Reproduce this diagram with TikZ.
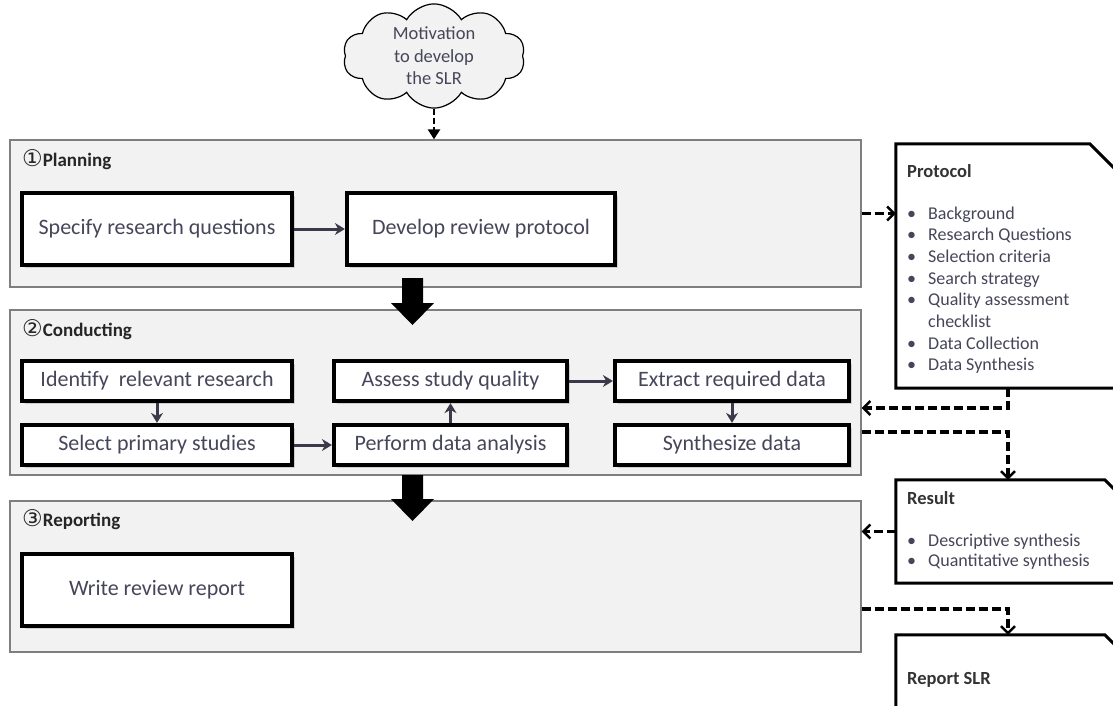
\documentclass[tikz,border=0pt]{standalone}
\usepackage{fontspec}
\setmainfont{Carlito}
\newfontfamily\symfont{DejaVu Sans}
\newcommand\circnumfont{\symfont\mdseries\fontsize{23}{24}\selectfont}
\usetikzlibrary{shapes.symbols,shadows,arrows.meta,calc}
\definecolor{panelfill}{HTML}{F2F2F2}
\definecolor{panelline}{HTML}{7F7F7F}
\definecolor{boxtext}{HTML}{46465A}
\definecolor{arrowc}{HTML}{3A3A4A}
\begin{document}
\begin{tikzpicture}[x=1pt,y=-1pt,
  panel/.style={draw=panelline, fill=panelfill, line width=1.3pt, rectangle, inner sep=0pt},
  stepbox/.style={draw=black, fill=white, line width=4.2pt, rectangle, inner sep=0pt, text=boxtext,
     font=\fontsize{22}{26}\selectfont,
     drop shadow={shadow xshift=2.5pt, shadow yshift=-2.5pt, opacity=0.3}},
  phase/.style={anchor=west, inner sep=0pt, font=\fontsize{19}{22}\selectfont\bfseries, text=black!85},
  flow/.style={draw=arrowc, line width=3pt, -{Stealth[length=10pt,width=12pt]}},
  dflow/.style={draw=black, line width=3.2pt, dash pattern=on 9pt off 4pt,
     -{Straight Barb[length=7pt,width=14pt,line width=2.4pt]}},
  docline/.style={draw=black, fill=white, line width=3pt, line join=miter},
  docbox/.style={rectangle, inner sep=0pt, minimum width=224pt},
  doctitle/.style={anchor=base west, inner sep=0pt, font=\fontsize{18.5}{22}\selectfont\bfseries, text=black!80},
  doclist/.style={anchor=base west, inner sep=0pt, text=boxtext},
  bigarrow/.style={fill=black},
]
\useasboundingbox (0,0) rectangle (1113,706);

% cloud
\node[cloud, cloud puffs=10, cloud puff arc=120, aspect=1.8, draw=black, line width=1.2pt,
      fill=panelfill, minimum width=182pt, minimum height=102pt, inner sep=0pt,
      text=boxtext, font=\fontsize{18.5}{22.5}\selectfont, align=center]
      (motiv) at (434,56) {Motivation\\to develop\\the SLR};

% panels
\node[panel, minimum width=851pt, minimum height=147pt] (plan) at (435.5,213.5) {};
\node[panel, minimum width=851pt, minimum height=165pt] (cond) at (435.5,392.5) {};
\node[panel, minimum width=851pt, minimum height=151pt] (rep) at (435.5,576.5) {};

\draw[line width=2.6pt, dash pattern=on 6pt off 3pt, -{Triangle[length=10pt,width=12pt]}]
  (motiv.south) -- (motiv.south |- plan.north);

\node[phase] (planlbl) at (22,160) {{\circnumfont ①}Planning};
\node[phase] (condlbl) at (22,330) {{\circnumfont ②}Conducting};
\node[phase] (replbl) at (22,520) {{\circnumfont ③}Reporting};

% step boxes
\node[stepbox, minimum width=270pt, minimum height=72pt] (spec) at (157,229) {Specify research questions};
\node[stepbox, minimum width=268pt, minimum height=72pt] (dev) at (481,229) {Develop review protocol};
\node[stepbox, minimum width=270pt, minimum height=40pt] (ident) at (157,381) {Identify\ \ relevant research};
\node[stepbox, minimum width=270pt, minimum height=40pt] (select) at (157,445) {Select primary studies};
\node[stepbox, minimum width=233pt, minimum height=40pt] (assess) at (450.5,381) {Assess study quality};
\node[stepbox, minimum width=233pt, minimum height=40pt] (perform) at (450.5,445) {Perform data analysis};
\node[stepbox, minimum width=234pt, minimum height=40pt] (extract) at (732,381) {Extract required data};
\node[stepbox, minimum width=234pt, minimum height=40pt] (synth) at (732,445) {Synthesize data};
\node[stepbox, minimum width=270pt, minimum height=72pt] (write) at (157,590) {Write review report};

% flows
\draw[flow] (spec.east) -- (dev.west);
\draw[flow] (ident.south) -- (select.north);
\draw[flow] (select.east) -- (perform.west);
\draw[flow] (perform.north) -- (assess.south);
\draw[flow] (assess.east) -- (extract.west);
\draw[flow] (extract.south) -- (synth.north);

% big arrows
\coordinate (ba1) at (412.5,278);
\coordinate (ba2) at (412.5,475);
\fill[bigarrow] (ba1) +(-10.5,0) -- +(-10.5,25) -- +(-21.5,25) -- +(0,47) -- +(21.5,25) -- +(10.5,25) -- +(10.5,0) -- cycle;
\fill[bigarrow] (ba2) +(-10.5,0) -- +(-10.5,24) -- +(-21.5,24) -- +(0,46) -- +(21.5,24) -- +(10.5,24) -- +(10.5,0) -- cycle;

% documents
\node[docbox, minimum height=244pt] (proto) at (1008,266) {};
\draw[docline] (proto.south west) -- (proto.north west) -- ($(proto.north west)+(194,0)$)
   -- ($(proto.north west)+(224,30)$) -- (proto.south east) -- cycle;
\node[doctitle] (prototitle) at (907,177) {Protocol};
\node[doclist] (protolist) at (907,219) {\fontsize{18}{21.7}\selectfont
  \begin{tabular}[t]{@{}p{21pt}@{}l@{}}
  • & Background\\
  • & Research Questions\\
  • & Selection criteria\\
  • & Search strategy\\
  • & Quality assessment\\
    & checklist\\
  • & Data Collection\\
  • & Data Synthesis
  \end{tabular}};

\node[docbox, minimum height=103pt] (result) at (1008,531.5) {};
\draw[docline] (result.south west) -- (result.north west) -- ($(result.north west)+(209,0)$)
   -- ($(result.north west)+(224,15)$) -- (result.south east) -- cycle;
\node[doctitle] (resulttitle) at (907,504) {Result};
\node[doclist] (resultlist) at (907,546) {\fontsize{18}{20.5}\selectfont
  \begin{tabular}[t]{@{}p{21pt}@{}l@{}}
  • & Descriptive synthesis\\
  • & Quantitative synthesis
  \end{tabular}};

\node[docbox, minimum height=85pt] (report) at (1008,677.5) {};
\draw[docline] (report.south west) -- (report.north west) -- ($(report.north west)+(209,0)$)
   -- ($(report.north west)+(224,15)$) -- (report.south east) -- cycle;
\node[doctitle] (reporttitle) at (907,684) {Report SLR};

% dashed connectors
\draw[dflow] (plan.east) -- (plan.east -| proto.west);
\draw[dflow] (proto.south) |- ($(cond.east)+(0,15.5)$);
\draw[dflow] ($(cond.east)+(0,39.5)$) -| (result.north);
\draw[dflow] (result.west) -- (result.west -| rep.east);
\draw[dflow] ($(rep.east)+(0,32.5)$) -| (report.north);
\end{tikzpicture}
\end{document}
